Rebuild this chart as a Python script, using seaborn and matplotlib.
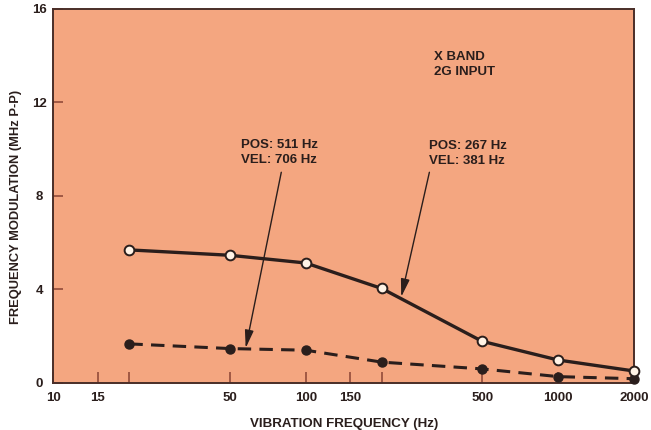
import matplotlib
matplotlib.use("Agg")
import matplotlib.pyplot as plt
import pandas as pd
import seaborn as sns
from matplotlib.ticker import FixedLocator, FixedFormatter, NullLocator

# Vibration frequency of each measurement (Hz)
freq_hz = [20, 50, 100, 200, 500, 1000, 2000]
# Peak-to-peak frequency modulation (MHz), open-circle curve
fm_open = [5.68, 5.45, 5.12, 4.03, 1.77, 0.97, 0.50]
# Peak-to-peak frequency modulation (MHz), filled-circle curve
fm_filled = [1.66, 1.46, 1.39, 0.88, 0.59, 0.26, 0.17]

x_ticks = [10, 15, 20, 50, 100, 150, 200, 500, 1000, 2000]
x_tick_labels = ["10", "15", "", "50", "100", "150", "", "500", "1000", "2000"]
y_ticks = [0, 4, 8, 12, 16]

sns.set_theme(style="white")
plt.rcParams["font.family"] = ["Liberation Sans", "DejaVu Sans"]

ink = "#2a1e1c"
spine_col = "#4a2e28"
tick_col = "#8a4434"
panel = "#f4a680"

fig = plt.figure(figsize=(6.51, 4.30), dpi=100)
ax = fig.add_axes([0.082, 0.110, 0.892, 0.870])
ax.set_facecolor(panel)

df = pd.DataFrame({"freq": freq_hz, "open": fm_open, "filled": fm_filled})

sns.lineplot(data=df, x="freq", y="filled", ax=ax, color=ink, lw=2.2,
             marker="o", markersize=6.5, markerfacecolor=ink,
             markeredgecolor=ink, markeredgewidth=1.0, clip_on=False,
             zorder=3)
sns.lineplot(data=df, x="freq", y="open", ax=ax, color=ink, lw=2.4,
             marker="o", markersize=7, markerfacecolor="#fff3e6",
             markeredgecolor=ink, markeredgewidth=1.4, clip_on=False,
             zorder=4)
ax.lines[0].set_dashes([4.4, 2.7])

ax.set_xscale("log")
ax.set_xlim(10, 2000)
ax.set_ylim(0, 16)

ax.xaxis.set_major_locator(FixedLocator(x_ticks))
ax.xaxis.set_major_formatter(FixedFormatter(x_tick_labels))
ax.xaxis.set_minor_locator(NullLocator())
ax.yaxis.set_major_locator(FixedLocator(y_ticks))

ax.tick_params(axis="x", bottom=True, direction="in", length=8, width=1.1,
               color=tick_col, pad=6.5, labelsize=9.5, labelcolor=ink)
ax.tick_params(axis="y", left=True, direction="in", length=7, width=1.1,
               color=tick_col, pad=10, labelsize=9.5, labelcolor=ink)
for lab in ax.get_yticklabels():
    lab.set_horizontalalignment("center")
for lab in ax.get_xticklabels() + ax.get_yticklabels():
    lab.set_fontweight("bold")

for s in ax.spines.values():
    s.set_visible(True)
    s.set_color(spine_col)
    s.set_linewidth(1.4)

ax.set_xlabel("VIBRATION FREQUENCY (Hz)", fontsize=9.6, fontweight="bold",
              color=ink)
ax.set_ylabel("FREQUENCY MODULATION (MHz P-P)", fontsize=9.3,
              fontweight="bold", color=ink)
ax.xaxis.set_label_coords(0.5, -0.095)
ax.yaxis.set_label_coords(-0.054, 0.47)

txt = dict(fontsize=9.5, fontweight="bold", color=ink, ha="left",
           va="center", linespacing=1.35)
ax.text(321, 13.6, "X BAND\n2G INPUT", **txt)
ax.text(55.5, 9.85, "POS: 511 Hz\nVEL: 706 Hz", **txt)
ax.text(309, 9.8, "POS: 267 Hz\nVEL: 381 Hz", **txt)

arrow = dict(arrowstyle="-|>,head_length=0.9,head_width=0.22", color=ink,
             lw=1.0, shrinkA=0, shrinkB=0)
ax.annotate("", xy=(57.8, 1.48), xytext=(80, 9.0), arrowprops=arrow)
ax.annotate("", xy=(239, 3.67), xytext=(309, 9.0), arrowprops=arrow)

fig.savefig("out.png", dpi=100, facecolor="white")
